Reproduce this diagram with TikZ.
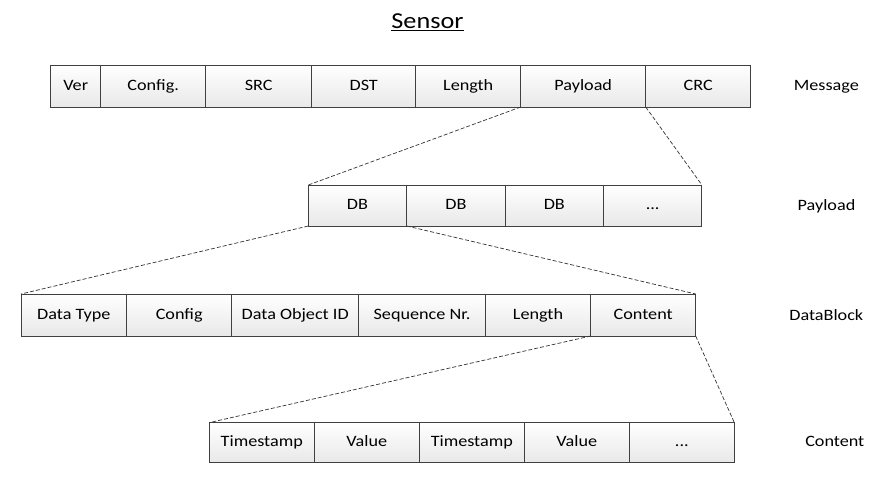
\documentclass[tikz,border=0pt]{standalone}
\usepackage{fontspec}
\setmainfont{Carlito}[FakeStretch=1.15]
\begin{document}
\begin{tikzpicture}[x=1pt,y=-1pt,inner sep=0pt,outer sep=0pt,
field/.style={draw=black!75,line width=0.9pt,rectangle,top color=white,bottom color=black!9,text height=0.82em,text depth=0pt,font=\fontsize{15.8}{18}\selectfont},
layer/.style={text height=0.82em,text depth=0pt,font=\fontsize{15.8}{18}\selectfont},
zoomline/.style={line width=0.7pt,dash pattern=on 4pt off 2pt,black!80}]
\useasboundingbox (0,0) rectangle (890,486);
\node (title) at (427.5,22) {\fontsize{22.8}{26}\selectfont\underline{Sensor}};
% message
\draw (75.7,86) node[field,minimum width=50,minimum height=42] (ver) {Ver};
\draw (153.2,86) node[field,minimum width=105,minimum height=42] (cfg) {Config.};
\draw (258.7,86) node[field,minimum width=106,minimum height=42] (src) {SRC};
\draw (363.7,86) node[field,minimum width=104,minimum height=42] (dst) {DST};
\draw (468.2,86) node[field,minimum width=105,minimum height=42] (len) {Length};
\draw (583.2,86) node[field,minimum width=125,minimum height=42] (pay) {Payload};
\draw (698.2,86) node[field,minimum width=105,minimum height=42] (crc) {CRC};
\node[layer] (lmsg) at (826.3,86) {Message};
% payload
\draw (357.5,205.5) node[field,minimum width=98.4,minimum height=41] (db1) {DB};
\draw (455.9,205.5) node[field,minimum width=98.4,minimum height=41] (db2) {DB};
\draw (554.3,205.5) node[field,minimum width=98.4,minimum height=41] (db3) {DB};
\draw (652.7,205.5) node[field,minimum width=98.4,minimum height=41] (dbn) {...};
\node[layer] (lpay) at (826.5,206) {Payload};
% data block
\draw (73.85,315) node[field,minimum width=105.7,minimum height=42] (dtype) {Data Type};
\draw (179.2,315) node[field,minimum width=105,minimum height=42] (dcfg) {Config};
\draw (295.2,315) node[field,minimum width=127,minimum height=42] (doid) {Data Object ID};
\draw (422,315) node[field,minimum width=126.6,minimum height=42] (dseq) {Sequence Nr.};
\draw (538,315) node[field,minimum width=105.4,minimum height=42] (dlen) {Length};
\draw (643.2,315) node[field,minimum width=105,minimum height=42] (dcont) {Content};
\node[layer] (ldb) at (826.3,316) {DataBlock};
% content
\draw (261.8,442.6) node[field,minimum width=105,minimum height=40] (ts1) {Timestamp};
\draw (366.8,442.6) node[field,minimum width=105,minimum height=40] (val1) {Value};
\draw (471.8,442.6) node[field,minimum width=105,minimum height=40] (ts2) {Timestamp};
\draw (576.8,442.6) node[field,minimum width=105,minimum height=40] (val2) {Value};
\draw (681.8,442.6) node[field,minimum width=105,minimum height=40] (valn) {...};
\node[layer] (lcont) at (834.8,442) {Content};
% zoom lines
\draw[zoomline] (pay.south west) -- (db1.north west);
\draw[zoomline] (pay.south east) -- (dbn.north east);
\draw[zoomline] (db1.south west) -- (dtype.north west);
\draw[zoomline] (db1.south east) -- (dcont.north east);
\draw[zoomline] (dcont.south west) -- (ts1.north west);
\draw[zoomline] (dcont.south east) -- (valn.north east);
\end{tikzpicture}
\end{document}
